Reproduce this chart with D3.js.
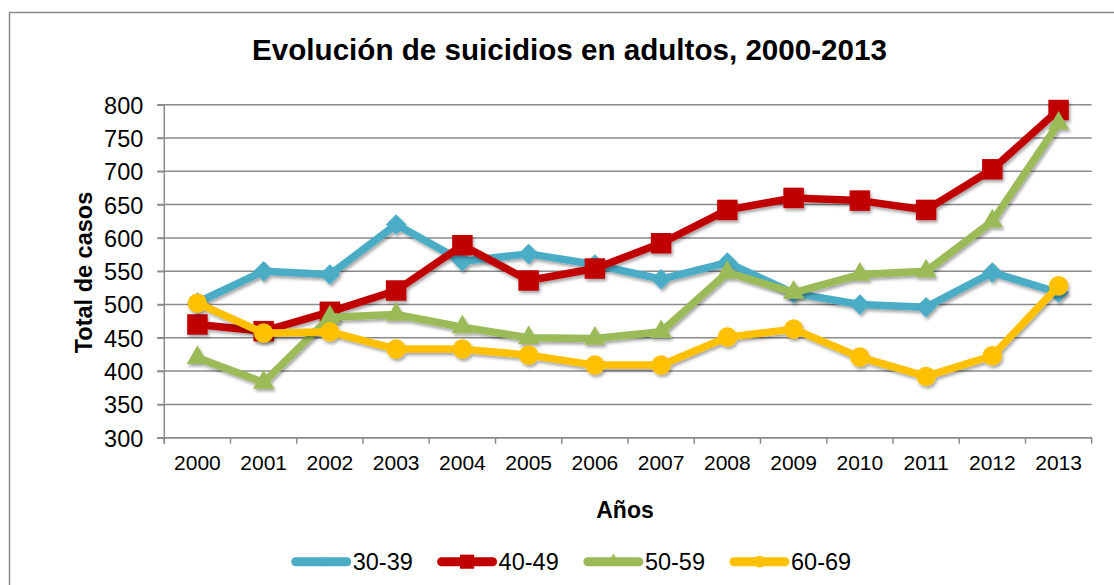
<!DOCTYPE html>
<html>
  <head>
    <meta charset="UTF-8" />
    <script src="https://cdn.jsdelivr.net/npm/d3@7"></script>
    <title>Evolución de suicidios en adultos</title>
    <style type="text/css">
      body { margin: 0; background: #fff; }
      text { font-family: "Liberation Sans", Arial, sans-serif; fill: #000; }
    </style>
  </head>
  <body>
    <div id="chartcontainer"></div>
    <script>
      // data
      var years = ["2000", "2001", "2002", "2003", "2004", "2005", "2006",
                   "2007", "2008", "2009", "2010", "2011", "2012", "2013"];
      var s30 = [503, 550, 545, 620, 565, 576, 560, 538, 563, 517, 500, 496, 548, 518];
      var s40 = [470, 460, 489, 521, 589, 536, 554, 592, 642, 660, 656, 642, 703, 792];
      var s50 = [420, 383, 481, 485, 466, 450, 449, 459, 548, 518, 545, 550, 625, 772];
      var s60 = [502, 457, 459, 433, 433, 424, 409, 409, 451, 463, 421, 392, 423, 528];
      var yTicks = [300, 350, 400, 450, 500, 550, 600, 650, 700, 750, 800];

      var series = [
        { name: "30-39", values: s30, color: "#4bacc6", marker: "diamond" },
        { name: "40-49", values: s40, color: "#c00000", marker: "square" },
        { name: "50-59", values: s50, color: "#9bbb59", marker: "triangle" },
        { name: "60-69", values: s60, color: "#ffc000", marker: "circle" },
      ];

      var W = 1114, H = 585;
      var plotL = 164.3, plotR = 1091.7, plotT = 104.7, plotB = 437.7;
      var gridColor = "#8a8a8a";

      var svg = d3
        .select("#chartcontainer")
        .append("svg")
        .attr("width", W)
        .attr("height", H);

      // drop shadow like the office chart
      svg
        .append("defs")
        .append("filter")
        .attr("id", "shadow")
        .attr("x", "-20%").attr("y", "-20%")
        .attr("width", "140%").attr("height", "140%")
        .append("feDropShadow")
        .attr("dx", 1.5)
        .attr("dy", 2.5)
        .attr("stdDeviation", 1.5)
        .attr("flood-color", "#000")
        .attr("flood-opacity", 0.35);

      // outer frame
      svg
        .append("rect")
        .attr("x", 9.5)
        .attr("y", 12.5)
        .attr("width", 1120)
        .attr("height", 600)
        .attr("fill", "none")
        .attr("stroke", gridColor)
        .attr("stroke-width", 1.5);

      var x = d3.scaleBand().domain(years).range([plotL, plotR]).padding(0);
      var y = d3.scaleLinear().domain([300, 800]).range([plotB, plotT]);

      // gridlines
      svg
        .append("g")
        .selectAll("line")
        .data(yTicks)
        .join("line")
        .attr("x1", plotL - 7)
        .attr("x2", plotR)
        .attr("y1", function (d) { return y(d); })
        .attr("y2", function (d) { return y(d); })
        .attr("stroke", gridColor)
        .attr("stroke-width", 1.5);

      // Y axis labels
      var yAxis = svg
        .append("g")
        .attr("transform", "translate(" + plotL + ",0)")
        .call(d3.axisLeft(y).tickValues(yTicks).tickSize(7).tickPadding(14));
      yAxis.select(".domain").attr("stroke", gridColor).attr("stroke-width", 1.5)
        .attr("d", "M0," + plotT + "V" + (plotB + 6));
      yAxis.selectAll(".tick line").attr("stroke", gridColor).attr("stroke-width", 1.5);
      yAxis.selectAll(".tick text").style("font-size", "23.5px").attr("dy", "0.36em");

      // X axis
      var xAxis = svg
        .append("g")
        .attr("transform", "translate(0," + plotB + ")")
        .call(d3.axisBottom(x).tickSize(0).tickPadding(17));
      xAxis.select(".domain").attr("stroke", gridColor).attr("stroke-width", 1.5)
        .attr("d", "M" + (plotL - 7) + ",0H" + plotR);
      xAxis.selectAll(".tick text").style("font-size", "21px");

      var bounds = years.map(function (d) { return x(d); }).concat([plotR]);
      svg
        .append("g")
        .selectAll("line")
        .data(bounds)
        .join("line")
        .attr("x1", function (d) { return d; })
        .attr("x2", function (d) { return d; })
        .attr("y1", plotB)
        .attr("y2", plotB + 6)
        .attr("stroke", gridColor)
        .attr("stroke-width", 1.5);

      function markerPath(type, big) {
        if (type == "diamond") return d3.symbol(d3.symbolSquare, big ? 210 : 50)();
        if (type == "square") return d3.symbol(d3.symbolSquare, big ? 420 : 200)();
        if (type == "triangle") return d3.symbol(d3.symbolTriangle, big ? 200 : 90)();
        return d3.symbol(d3.symbolCircle, big ? 300 : 110)();
      }

      var line = d3
        .line()
        .x(function (d, i) { return x(years[i]) + x.bandwidth() / 2; })
        .y(function (d) { return y(d); });

      series.forEach(function (s) {
        var g = svg.append("g").attr("filter", "url(#shadow)");
        g.append("path")
          .datum(s.values)
          .attr("fill", "none")
          .attr("stroke", s.color)
          .attr("stroke-width", 7.5)
          .attr("stroke-linejoin", "round")
          .attr("d", line);
        g.selectAll(".pt")
          .data(s.values)
          .join("path")
          .attr("class", "pt")
          .attr("fill", s.color)
          .attr("d", markerPath(s.marker, true))
          .attr("transform", function (d, i) {
            var t = "translate(" + (x(years[i]) + x.bandwidth() / 2) + "," + y(d) + ")";
            return s.marker == "diamond" ? t + " rotate(45)" : t;
          });
      });

      // title
      svg
        .append("text")
        .attr("x", 569.5)
        .attr("y", 60)
        .attr("text-anchor", "middle")
        .style("font-size", "29.6px")
        .style("font-weight", "bold")
        .text("Evolución de suicidios en adultos, 2000-2013");

      svg
        .append("text")
        .attr("transform", "translate(92,272.5) rotate(-90)")
        .attr("text-anchor", "middle")
        .style("font-size", "23.5px")
        .style("font-weight", "bold")
        .text("Total de casos");

      svg
        .append("text")
        .attr("x", 625)
        .attr("y", 518)
        .attr("text-anchor", "middle")
        .style("font-size", "23px")
        .style("font-weight", "bold")
        .text("Años");

      // legend
      var legendX = [291.7, 437.6, 583.9, 730];
      var legend = svg
        .append("g")
        .selectAll("g")
        .data(series)
        .join("g")
        .attr("transform", function (d, i) { return "translate(" + legendX[i] + ",561.7)"; });
      legend
        .append("line")
        .attr("x1", 4)
        .attr("x2", 55)
        .attr("stroke", function (d) { return d.color; })
        .attr("stroke-width", 9)
        .attr("stroke-linecap", "round");
      legend
        .append("path")
        .attr("fill", function (d) { return d.color; })
        .attr("d", function (d) { return markerPath(d.marker, false); })
        .attr("transform", function (d) {
          return d.marker == "diamond" ? "translate(29.5,0) scale(0.6,1) rotate(45)" : "translate(29.5,0)";
        });
      legend
        .append("text")
        .attr("x", 61)
        .attr("y", 8.5)
        .style("font-size", "23.5px")
        .text(function (d) { return d.name; });
    </script>
  </body>
</html>
